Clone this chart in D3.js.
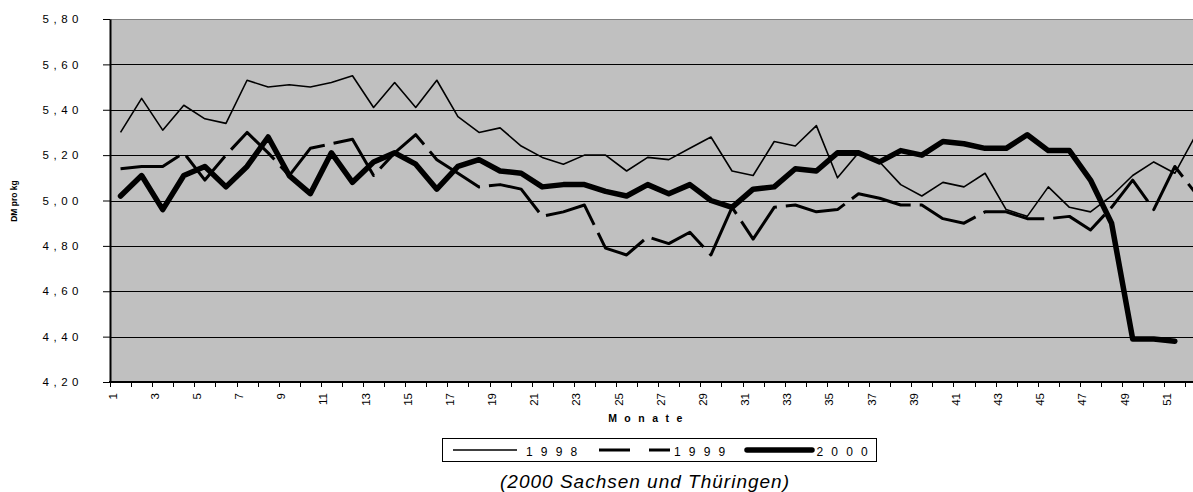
<!DOCTYPE html>
<html><head><meta charset="utf-8">
<script src="https://cdn.jsdelivr.net/npm/d3@7"></script>
<style>
body{margin:0;background:#fff}
svg{display:block}
text{font-family:Arial,"Liberation Sans",sans-serif;fill:#000}
</style>
</head><body>
<svg id="chart" width="1193" height="492"></svg>
<script>
const months = [1,2,3,4,5,6,7,8,9,10,11,12,13,14,15,16,17,18,19,20,21,22,23,24,25,26,
  27,28,29,30,31,32,33,34,35,36,37,38,39,40,41,42,43,44,45,46,47,48,49,50,51,52];
const xTickLabels = [1,3,5,7,9,11,13,15,17,19,21,23,25,27,29,31,33,35,37,39,41,43,45,47,49,51];
const yTicks = [4.2,4.4,4.6,4.8,5.0,5.2,5.4,5.6,5.8];
const seriesNames = ["1998","1999","2000"];
const v1998 = [5.30,5.45,5.31,5.42,5.36,5.34,5.53,5.50,5.51,5.50,5.52,5.55,5.41,5.52,5.41,5.53,5.37,5.30,5.32,5.24,
  5.19,5.16,5.20,5.20,5.13,5.19,5.18,5.23,5.28,5.13,5.11,5.26,5.24,5.33,5.10,5.21,5.17,5.07,5.02,5.08,
  5.06,5.12,4.96,4.93,5.06,4.97,4.95,5.02,5.11,5.17,5.12,5.29];
const v1999 = [5.14,5.15,5.15,5.21,5.09,5.20,5.30,5.21,5.11,5.23,5.25,5.27,5.11,5.21,5.29,5.18,5.12,5.06,5.07,5.05,
  4.93,4.95,4.98,4.79,4.76,4.84,4.81,4.86,4.76,4.97,4.83,4.97,4.98,4.95,4.96,5.03,5.01,4.98,4.98,4.92,
  4.90,4.95,4.95,4.92,4.92,4.93,4.87,4.97,5.09,4.96,5.15,5.03];
const v2000 = [5.02,5.11,4.96,5.11,5.15,5.06,5.15,5.28,5.11,5.03,5.21,5.08,5.17,5.21,5.16,5.05,5.15,5.18,5.13,5.12,
  5.06,5.07,5.07,5.04,5.02,5.07,5.03,5.07,5.00,4.97,5.05,5.06,5.14,5.13,5.21,5.21,5.17,5.22,5.20,5.26,
  5.25,5.23,5.23,5.29,5.22,5.22,5.09,4.90,4.39,4.39,4.38];

const svg = d3.select("#chart");
const L = 110, T = 19, B = 382, catW = 21.086;
const x = d3.scaleBand().domain(months).range([L, L + months.length * catW]).padding(0);
const y = d3.scaleLinear().domain([4.2, 5.8]).range([B, T]);
const fmt = v => d3.format(".2f")(v).replace(".", ",");

// plot background
svg.append("rect").attr("x", L).attr("y", T)
  .attr("width", x.range()[1] - L).attr("height", B - T).attr("fill", "#C0C0C0");

// gridlines
svg.append("g").selectAll("line").data(yTicks.filter(t => t > 4.2))
  .join("line")
  .attr("x1", L).attr("x2", x.range()[1])
  .attr("y1", d => Math.round(y(d)) + 0.5).attr("y2", d => Math.round(y(d)) + 0.5)
  .attr("stroke", d => d === 5.8 ? "#808080" : "#000").attr("stroke-width", 1);

// y axis
const yAxis = svg.append("g").attr("transform", `translate(${L},0)`)
  .call(d3.axisLeft(y).tickValues(yTicks).tickSize(7).tickSizeOuter(0).tickPadding(20).tickFormat(fmt));
yAxis.select(".domain").attr("stroke", "#000").attr("stroke-width", 2);
yAxis.selectAll(".tick line").attr("stroke", "#000");
yAxis.selectAll(".tick text").attr("font-size", 11.5).attr("letter-spacing", 4.5)
  .attr("font-family", "Arial, 'Liberation Sans', sans-serif").attr("fill", "#222");

// x axis line
svg.append("line").attr("x1", L - 1).attr("x2", x.range()[1]).attr("y1", B).attr("y2", B)
  .attr("stroke", "#000").attr("stroke-width", 2);
// x ticks at category boundaries
svg.append("g").selectAll("line").data(months)
  .join("line")
  .attr("x1", d => Math.round(x(d)) + 0.5).attr("x2", d => Math.round(x(d)) + 0.5)
  .attr("y1", B).attr("y2", B + 5).attr("stroke", "#000");
// x labels
svg.append("g").selectAll("text").data(xTickLabels)
  .join("text")
  .attr("transform", d => `translate(${x(d) + 2.5},393) rotate(-90)`)
  .attr("text-anchor", "end").attr("dy", "0.35em")
  .attr("font-size", 11.5).attr("fill", "#222")
  .text(d => d);

// series
const line = d3.line().x((d, i) => x(months[i]) + x.bandwidth() / 2).y(d => y(d));
svg.append("path").datum(v1998).attr("d", line).attr("fill", "none")
  .attr("stroke", "#000").attr("stroke-width", 1.6).attr("stroke-linejoin", "round");
svg.append("path").datum(v1999).attr("d", line).attr("fill", "none")
  .attr("stroke", "#000").attr("stroke-width", 3).attr("stroke-dasharray", "62 9")
  .attr("stroke-linejoin", "round");
svg.append("path").datum(v2000).attr("d", line).attr("fill", "none")
  .attr("stroke", "#000").attr("stroke-width", 5.5)
  .attr("stroke-linejoin", "round").attr("stroke-linecap", "round");

// axis titles
svg.append("text").attr("x", 649).attr("y", 421.5).attr("text-anchor", "middle")
  .attr("font-size", 10.5).attr("font-weight", "bold").attr("letter-spacing", 7.5)
  .text("Monate");
svg.append("text").attr("transform", "translate(17,201) rotate(-90)").attr("text-anchor", "middle")
  .attr("font-size", 8.5).attr("font-weight", "bold").text("DM pro kg");

// legend
const lg = svg.append("g");
lg.append("rect").attr("x", 442.5).attr("y", 438.5).attr("width", 434).attr("height", 23)
  .attr("fill", "#fff").attr("stroke", "#000");
const legendItems = [
  {name: seriesNames[0], x1: 453, x2: 517, w: 1.6, dash: null, cap: "butt", tx: 526},
  {name: seriesNames[1], x1: 599, x2: 670, w: 3, dash: "31 19", cap: "butt", tx: 674},
  {name: seriesNames[2], x1: 747, x2: 812, w: 5.5, dash: null, cap: "round", tx: 816.5}
];
legendItems.forEach(it => {
  lg.append("line").attr("x1", it.x1).attr("x2", it.x2).attr("y1", 450).attr("y2", 450)
    .attr("stroke", "#000").attr("stroke-width", it.w).attr("stroke-linecap", it.cap)
    .attr("stroke-dasharray", it.dash);
  lg.append("text").attr("x", it.tx).attr("y", 455.5).attr("font-size", 12)
    .attr("letter-spacing", 8.2).attr("fill", "#222").text(it.name);
});

// caption
svg.append("text").attr("x", 645).attr("y", 488).attr("text-anchor", "middle")
  .attr("font-size", 19).attr("font-style", "italic").attr("letter-spacing", 1)
  .text("(2000 Sachsen und Thüringen)");
</script>
</body></html>
